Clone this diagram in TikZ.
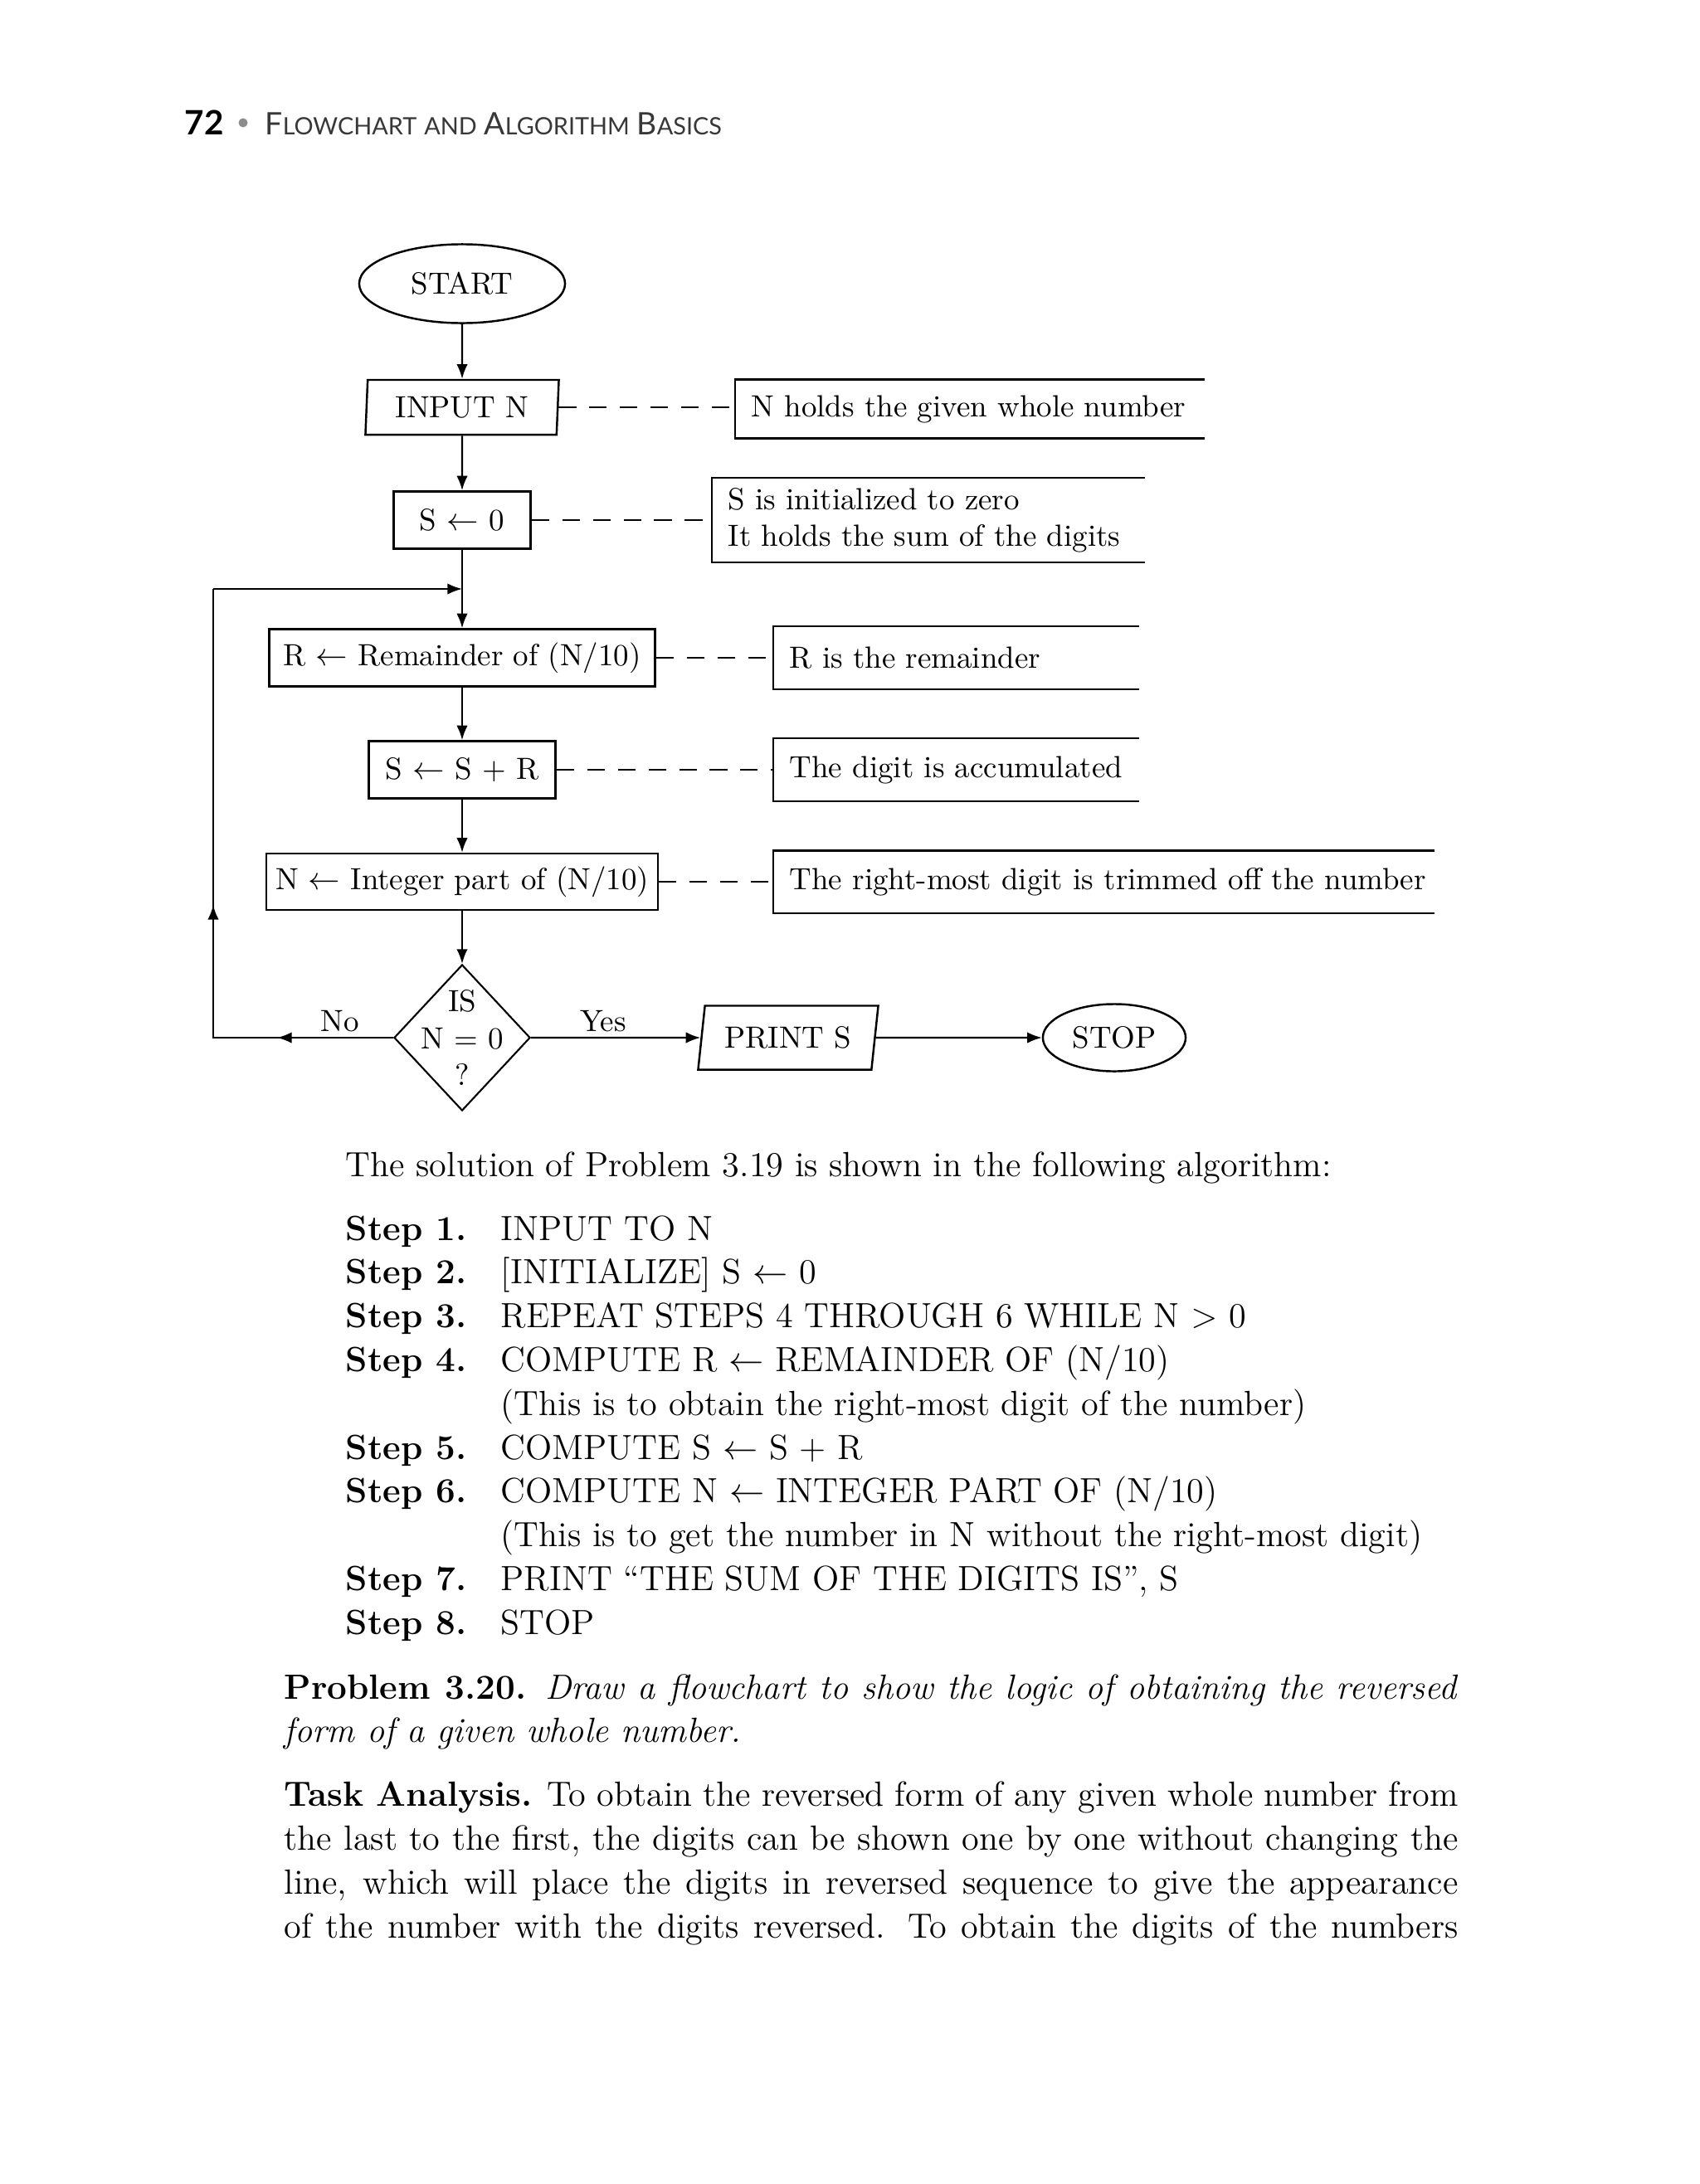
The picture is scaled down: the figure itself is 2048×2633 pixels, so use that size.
\documentclass[tikz,border=0pt]{standalone}
\usepackage{fontspec}
\newfontfamily\headfont{Lato}
\usetikzlibrary{shapes.geometric}
\usetikzlibrary{arrows.meta}
\definecolor{headgray}{gray}{0.22}
\definecolor{dotgray}{gray}{0.55}
\newcommand{\chartsize}{\fontsize{10.5}{12.6}\selectfont}
\newcommand{\bodysize}{\fontsize{12}{15}\selectfont}
\newcommand{\capsc}[2]{{\fontsize{10.6}{12}\selectfont #1}{\fontsize{8.2}{10}\selectfont #2}}
\tikzset{
every node/.style={inner sep=0pt, font=\chartsize},
box/.style={rectangle, draw, line width=0.7pt},
term/.style={ellipse, draw, line width=0.7pt},
io/.style={trapezium, trapezium stretches body=true, draw, line width=0.7pt},
decide/.style={diamond, draw, line width=0.6pt, align=center, inner sep=-0.15cm},
note/.style={anchor=west, inner xsep=0.19cm, align=left},
flow/.style={line width=0.6pt, -{Latex[length=5pt,width=3.8pt]}},
link/.style={line width=0.6pt, dash pattern=on 6pt off 4.5pt},
body/.style={anchor=base west, font=\bodysize}
}

\begin{document}
\begin{tikzpicture}[x=0.01cm, y=-0.01cm]
\path[fill=white] (0,0) rectangle (2048,2633);
\useasboundingbox (0,0) rectangle (2048,2633);

\node[anchor=base west, font=\headfont\bfseries\fontsize{11.5}{12}\selectfont] (page) at (222,162) {72};
\node[circle, fill=dotgray, minimum size=0.11cm] (dot) at (293,148) {};
\node[anchor=base west, font=\headfont, text=headgray] (head) at (319,162)
  {\capsc{F}{LOWCHART} \capsc{}{AND} \capsc{A}{LGORITHM} \capsc{B}{ASICS}};

\node[term, minimum width=2.48cm, minimum height=0.95cm] (start) at (557,342) {START};
\node[io, trapezium left angle=84, trapezium right angle=96, minimum width=2.33cm, minimum height=0.66cm] (inp) at (557,491) {INPUT N};
\node[box, minimum width=1.65cm, minimum height=0.69cm] (init) at (557,627) {S $\leftarrow$ 0};
\node[box, minimum width=4.65cm, minimum height=0.69cm] (rem) at (557,793) {R $\leftarrow$ Remainder of (N/10)};
\node[box, minimum width=2.25cm, minimum height=0.69cm] (acc) at (557,928) {S $\leftarrow$ S + R};
\node[box, minimum width=4.72cm, minimum height=0.68cm] (trim) at (557,1063) {N $\leftarrow$ Integer part of (N/10)};
\node[decide, minimum width=1.64cm, minimum height=1.76cm] (test) at (557,1251) {IS\\N = 0\\?};
\node[io, trapezium left angle=73, trapezium right angle=107, minimum width=2.17cm, minimum height=0.77cm] (out) at (950,1251) {PRINT S};
\node[term, minimum width=1.72cm, minimum height=0.81cm] (stop) at (1343,1251) {STOP};

\node[note, text width=5.26cm, minimum height=0.70cm] (n1) at (886,493) {\mbox{N holds the given whole number}};
\node[note, text width=4.82cm, minimum height=1.01cm] (n2) at (858,627) {S is initialized to zero\\It holds the sum of the digits};
\node[note, text width=4.01cm, minimum height=0.75cm] (n3) at (932,793) {\mbox{R is the remainder}};
\node[note, text width=4.01cm, minimum height=0.75cm] (n4) at (932,928) {\mbox{The digit is accumulated}};
\node[note, text width=7.57cm, minimum height=0.74cm] (n5) at (932,1063) {\mbox{The right-most digit is trimmed off the number}};
\foreach \n in {n1,n2,n3,n4,n5}
  \draw[line width=0.7pt] (\n.north east) -- (\n.north west) -- (\n.south west) -- (\n.south east);
\foreach \a/\b in {inp/n1, init/n2, rem/n3, acc/n4, trim/n5}
  \draw[link] (\a.east) -- (\a.east -| \b.west);

\foreach \a/\b in {start/inp, inp/init, init/rem, rem/acc, acc/trim, trim/test}
  \draw[flow] (\a) -- (\b);
\coordinate (lb) at (257,1251);
\coordinate (lt) at (257,710);
\coordinate (lj) at (557,710);
\coordinate (noh) at (334,1251);
\coordinate (uph) at (257,1091);
\draw[line width=0.7pt] (test.west) -- (lb) -- (lt);
\draw[flow] (lt) -- (lj);
\draw[flow] (test.west) -- (noh);
\draw[flow] (lb) -- (uph);
\draw[flow] (test.east) -- (out.west);
\draw[flow] (out.east) -- (stop.west);
\node[anchor=base] (no) at (410,1243) {No};
\node[anchor=base] (yes) at (727,1243) {Yes};

\node[body] (intro) at (416,1418) {The solution of Problem 3.19 is shown in the following algorithm:};
\foreach \k/\s in {0/1,1/2,2/3,3/4,5/5,6/6,8/7,9/8}
  \node[body, font=\bodysize\bfseries] (lab\s) at (416,1495+52.8*\k) {Step \s.};
\foreach \t [count=\k from 0] in {{INPUT TO N}, {[INITIALIZE] S $\leftarrow$ 0},
  {REPEAT STEPS 4 THROUGH 6 WHILE N $>$ 0}, {COMPUTE R $\leftarrow$ REMAINDER OF (N/10)},
  {(This is to obtain the right-most digit of the number)}, {COMPUTE S $\leftarrow$ S + R},
  {COMPUTE N $\leftarrow$ INTEGER PART OF (N/10)}, {(This is to get the number in N without the right-most digit)},
  {PRINT ``THE SUM OF THE DIGITS IS'', S}, {STOP}}
  \node[body] (line\k) at (603,1495+52.8*\k) {\t};

\node[body] (prob1) at (342,2048) {\makebox[14.14cm][s]{\textbf{Problem 3.20.} \textit{Draw a flowchart to show the logic of obtaining the reversed}}};
\node[body, font=\bodysize\itshape] (prob2) at (342,2100) {form of a given whole number.};
\foreach \t [count=\k from 0] in {{\textbf{Task Analysis.} To obtain the reversed form of any given whole number from},
  {the last to the first, the digits can be shown one by one without changing the},
  {line, which will place the digits in reversed sequence to give the appearance},
  {of the number with the digits reversed. To obtain the digits of the numbers}}
  \node[body] (task\k) at (342,2177+53*\k) {\makebox[14.14cm][s]{\t}};
\end{tikzpicture}
\end{document}
